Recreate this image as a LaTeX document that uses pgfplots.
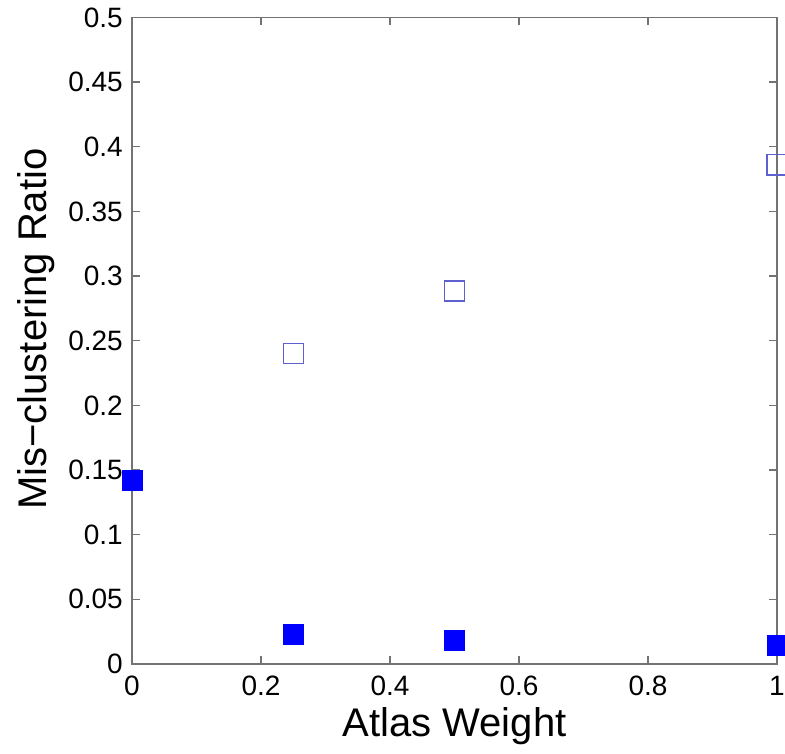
\documentclass[border=0pt]{standalone}
\usepackage{fontspec}
\setmainfont{Liberation Sans}
\usepackage{pgfplots}
\pgfplotsset{compat=1.18}
\definecolor{axgray}{RGB}{115,115,115}
\definecolor{openblue}{RGB}{95,95,205}
\begin{document}
\begin{tikzpicture}[x=1pt,y=1pt]
\begin{axis}[
  name=ax,
  scale only axis,
  width=645pt, height=646.5pt,
  xmin=0, xmax=1, ymin=0, ymax=0.5,
  xtick={0,0.2,0.4,0.6,0.8,1},
  ytick={0,0.05,0.1,0.15,0.2,0.25,0.3,0.35,0.4,0.45,0.5},
  xticklabels={0,0.2,0.4,0.6,0.8,1},
  yticklabels={0,0.05,0.1,0.15,0.2,0.25,0.3,0.35,0.4,0.45,0.5},
  tick align=inside,
  major tick length=8pt,
  axis line style={axgray, line width=1.4pt},
  every tick/.style={axgray, line width=1.4pt},
  tick label style={font=\fontsize{28}{32}\selectfont, inner sep=0pt},
  yticklabel style={xshift=-9pt},
  xticklabel style={yshift=-12pt},
  xlabel={Atlas Weight},
  ylabel={Mis−clustering Ratio},
  label style={font=\fontsize{40}{46}\selectfont, inner sep=0pt},
  xlabel style={at={(axis description cs:0.5,-0.1129)}, anchor=base},
  ylabel style={at={(axis description cs:-0.178,0.518)}, anchor=north},
  clip=false,
]
\addplot[only marks, mark=square, mark size=10pt, mark options={draw=openblue, line width=1.2pt}]
  coordinates {(0.25,0.240) (0.5,0.2885) (1,0.386)};
\addplot[only marks, mark=square*, mark size=10pt, mark options={draw=blue, fill=blue}]
  coordinates {(0,0.142) (0.25,0.023) (0.5,0.0186) (1,0.0147)};
\end{axis}
\pgfresetboundingbox
\path (ax.south west) ++(-132,-89) rectangle ++(785,753);
\end{tikzpicture}
\end{document}
